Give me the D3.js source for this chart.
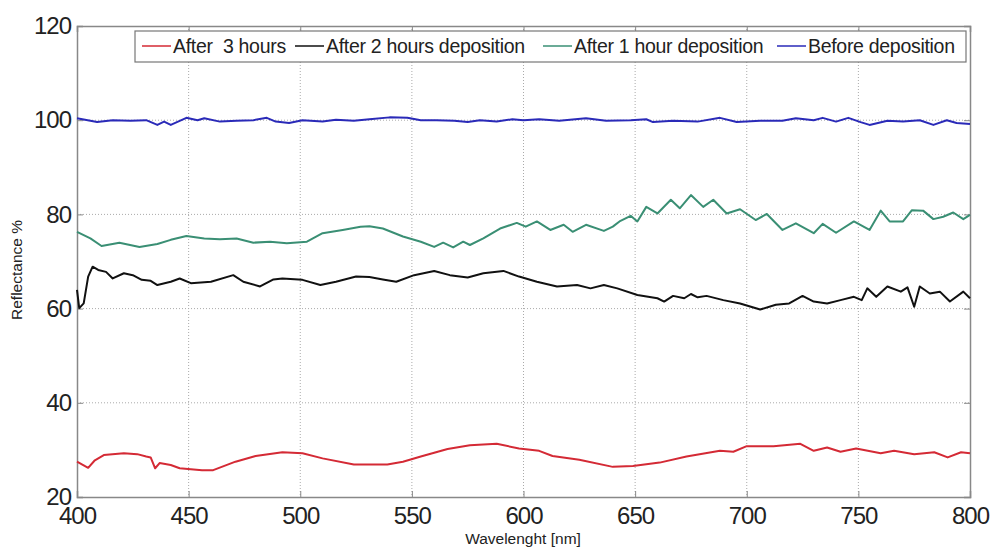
<!DOCTYPE html>
<html>
<head>
<meta charset="utf-8">
<script src="https://cdn.jsdelivr.net/npm/d3@7"></script>
<style>
  body { margin: 0; background: #fff; }
  svg { font-family: "Liberation Sans", Arial, sans-serif; }
</style>
</head>
<body>
<svg id="chart" width="994" height="547"></svg>
<script>
// series: [wavelength nm, reflectance %]
var redData = [[400,27.5],[405,26.2],[408,27.8],[412,28.9],[421,29.3],[427,29.1],[431,28.6],[433,28.4],[435,26.1],[437,27.2],[442,26.8],[446,26.1],[456,25.7],[461,25.7],[471,27.5],[480,28.7],[492,29.5],[501,29.3],[510,28.2],[524,26.9],[539,26.9],[546,27.5],[554,28.6],[566,30.2],[576,31.0],[588,31.3],[598,30.3],[607,29.8],[613,28.7],[625,27.9],[640,26.4],[649,26.6],[661,27.3],[673,28.6],[688,29.8],[694,29.6],[700,30.8],[712,30.8],[724,31.3],[730,29.8],[736,30.5],[742,29.6],[749,30.3],[760,29.3],[766,29.8],[775,29.1],[784,29.5],[790,28.4],[796,29.5],[800,29.3]];

var blackData = [[400,64.0],[401,60.1],[403,61.1],[405,66.8],[407,68.9],[409.5,68.2],[413,67.8],[416,66.4],[421,67.5],[425,67.1],[429,66.1],[433,65.9],[436,65.0],[442,65.7],[446,66.4],[451,65.4],[460,65.7],[470,67.1],[474.5,65.7],[482,64.7],[488,66.2],[492,66.4],[501,66.1],[509,65.0],[516,65.7],[525,66.8],[531,66.7],[537,66.2],[543,65.7],[551,67.1],[560,68.0],[567,67.1],[575,66.6],[582,67.5],[591,68.0],[598,66.8],[606,65.7],[615,64.7],[624,65.0],[630,64.3],[636,65.0],[642,64.3],[651,62.9],[660,62.2],[663,61.5],[667,62.7],[672,62.2],[675,63.1],[678,62.4],[682,62.7],[689.5,61.8],[697,61.1],[706,59.8],[713,60.8],[719,61.1],[725,62.7],[730,61.5],[736,61.1],[742,61.8],[748,62.5],[751.5,61.8],[754,64.3],[758,62.5],[763,64.7],[769,63.6],[772,64.5],[775,60.4],[777.5,64.7],[782,63.2],[786.5,63.6],[791,61.5],[797,63.6],[800,62.2]];

var greenData = [[400,76.3],[406,74.9],[411,73.3],[419,74.0],[428,73.1],[436,73.7],[442,74.6],[449,75.4],[457,74.9],[464,74.7],[471.5,74.9],[479,74.0],[486.5,74.2],[494,73.9],[503,74.2],[510,76.0],[519,76.7],[527,77.4],[531,77.5],[537,77.0],[546,75.3],[554,74.2],[560,73.1],[564,74.0],[568.5,73.0],[573,74.2],[576,73.5],[582,74.9],[589.5,77.0],[597,78.2],[601,77.4],[606,78.5],[612,76.7],[618,77.8],[622,76.3],[628,77.8],[636,76.5],[640,77.4],[643,78.5],[648,79.7],[651,78.5],[655,81.6],[660,80.2],[666,83.1],[670,81.3],[675,84.1],[680.5,81.6],[685,83.1],[691,80.2],[697,81.1],[704,78.8],[709,80.1],[716,76.7],[722,78.1],[730,76.0],[734,78.0],[740,76.1],[748,78.5],[755,76.7],[760,80.8],[764,78.5],[770,78.5],[774,80.9],[779,80.8],[783.6,79.0],[788,79.5],[792.5,80.4],[797,79.0],[800,79.9]];

var blueData = [[400,100.4],[409,99.6],[416,100.0],[424,99.9],[431,100.0],[436,99.0],[439,99.7],[442,99.0],[449,100.5],[454,100.0],[457,100.4],[464,99.7],[471.5,99.9],[479,100.0],[485,100.5],[489,99.7],[495,99.4],[501,100.0],[510,99.7],[516,100.1],[524,99.9],[531,100.2],[540,100.6],[548,100.5],[554,100.0],[561,100.0],[569,99.9],[575,99.6],[580.5,100.0],[588,99.7],[595,100.2],[600,100.0],[607,100.2],[616,99.9],[628,100.4],[637,99.9],[648,100.0],[655,100.2],[658,99.6],[667,99.9],[678,99.7],[688,100.5],[695.5,99.6],[706,99.9],[716,99.9],[722,100.4],[730,100.0],[734,100.5],[740,99.7],[745.5,100.5],[751,99.6],[755,99.0],[763,99.9],[770,99.7],[777.5,100.0],[783.6,99.0],[789.6,100.0],[794,99.4],[800,99.2]];

var seriesNames = ["After  3 hours", "After 2 hours deposition", "After 1 hour deposition", "Before deposition"];
var seriesColors = ["#d42a35", "#111111", "#3a8f74", "#2a2ab8"];
var seriesData = [redData, blackData, greenData, blueData];

var xTicks = [400, 450, 500, 550, 600, 650, 700, 750, 800];
var yTicks = [20, 40, 60, 80, 100, 120];

var svg = d3.select('#chart');
var plotLeft = 77, plotRight = 970, plotTop = 26, plotBottom = 497;

var x = d3.scaleLinear().domain([400, 800]).range([plotLeft, plotRight]);
var y = d3.scaleLinear().domain([20, 120]).range([plotBottom, plotTop]);

// dotted grid
var grid = svg.append('g');
grid.selectAll('line.gx')
    .data(xTicks.slice(1, -1))
    .enter()
    .append('line')
    .attr('x1', function (d) { return x(d); })
    .attr('x2', function (d) { return x(d); })
    .attr('y1', plotTop).attr('y2', plotBottom)
    .attr('stroke', '#aaa').attr('stroke-width', 1).attr('stroke-dasharray', '1,2');
grid.selectAll('line.gy')
    .data(yTicks.slice(1, -1))
    .enter()
    .append('line')
    .attr('y1', function (d) { return y(d); })
    .attr('y2', function (d) { return y(d); })
    .attr('x1', plotLeft).attr('x2', plotRight)
    .attr('stroke', '#aaa').attr('stroke-width', 1).attr('stroke-dasharray', '1,2');

// axes with inward ticks
var xAxis = svg.append('g')
    .attr('transform', 'translate(0,' + plotBottom + ')')
    .call(d3.axisBottom(x).tickValues(xTicks).tickSize(-6).tickPadding(10));
var xTop = svg.append('g')
    .attr('transform', 'translate(0,' + plotTop + ')')
    .call(d3.axisTop(x).tickValues(xTicks).tickSize(-6).tickFormat(''));
var yAxis = svg.append('g')
    .attr('transform', 'translate(' + plotLeft + ',0)')
    .call(d3.axisLeft(y).tickValues(yTicks).tickSize(-6).tickPadding(6));
var yRight = svg.append('g')
    .attr('transform', 'translate(' + plotRight + ',0)')
    .call(d3.axisRight(y).tickValues(yTicks).tickSize(-6).tickFormat(''));

[xAxis, xTop, yAxis, yRight].forEach(function (g) {
    g.select('.domain').attr('stroke', '#888').attr('stroke-width', 1.5);
    g.selectAll('.tick line').attr('stroke', '#888');
    g.selectAll('.tick text').attr('font-size', 24).attr('fill', '#222')
        .attr('font-family', '"Liberation Sans", Arial, sans-serif')
        .attr('letter-spacing', -1);
});
xAxis.selectAll('.tick text').attr('dy', '0.71em');

// lines
var line = d3.line()
    .x(function (d) { return x(d[0]); })
    .y(function (d) { return y(d[1]); });

svg.selectAll('path.series')
    .data(seriesData)
    .enter()
    .append('path')
    .attr('class', 'series')
    .attr('d', line)
    .attr('fill', 'none')
    .attr('stroke', function (d, i) { return seriesColors[i]; })
    .attr('stroke-width', 2)
    .attr('stroke-linejoin', 'round');

// legend
var legend = svg.append('g');
legend.append('rect')
    .attr('x', 135).attr('y', 31).attr('width', 831).attr('height', 31)
    .attr('fill', '#fff').attr('stroke', '#777').attr('stroke-width', 1.2);
var legX = [142, 295, 543, 777];
var items = legend.selectAll('g.item')
    .data(seriesNames)
    .enter()
    .append('g')
    .attr('transform', function (d, i) { return 'translate(' + legX[i] + ',46)'; });
items.append('line')
    .attr('x1', 0).attr('x2', 29)
    .attr('stroke', function (d, i) { return seriesColors[i]; })
    .attr('stroke-width', 1.5);
items.append('text')
    .attr('x', 31).attr('dy', '0.35em')
    .attr('font-size', 19.5).attr('fill', '#222')
    .attr('letter-spacing', -0.3)
    .style('white-space', 'pre')
    .text(function (d) { return d; });

// axis titles
svg.append('text')
    .attr('x', 523).attr('y', 544)
    .attr('text-anchor', 'middle').attr('font-size', 15.5).attr('fill', '#222')
    .text('Wavelenght [nm]');
svg.append('text')
    .attr('transform', 'translate(22,270) rotate(-90)')
    .attr('text-anchor', 'middle').attr('font-size', 15.5).attr('fill', '#222')
    .text('Reflectance %');
</script>
</body>
</html>
